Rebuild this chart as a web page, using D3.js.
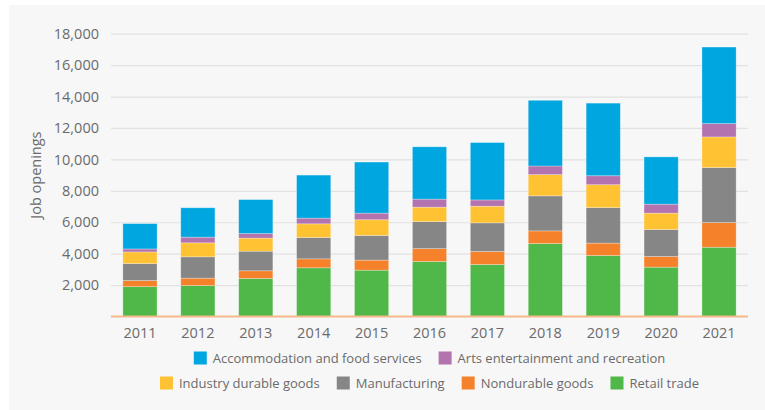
<!DOCTYPE html>
<html>
<head>
<meta charset="utf-8">
<script src="https://cdn.jsdelivr.net/npm/d3@7"></script>
<style>
  html, body { margin: 0; padding: 0; background: #ffffff; }
  svg { display: block; }
  text { font-family: "Open Sans", "Noto Sans", sans-serif; fill: #6b6b6b; }
</style>
</head>
<body>
<svg id="chart" width="765" height="410"></svg>
<script>
// Job openings by industry, per year
const years = ["2011","2012","2013","2014","2015","2016","2017","2018","2019","2020","2021"];
const seriesNames = [
  "Retail trade",
  "Nondurable goods",
  "Manufacturing",
  "Industry durable goods",
  "Arts entertainment and recreation",
  "Accommodation and food services"
];
const retail       = [1900, 1970, 2420, 3100, 2950, 3500, 3310, 4640, 3880, 3140, 4410];
const nondurable   = [ 390,  470,  490,  570,  640,  820,  830,  810,  790,  680, 1570];
const manufacturing= [1080, 1360, 1250, 1360, 1570, 1720, 1820, 2230, 2260, 1720, 3500];
const durable      = [ 740,  890,  830,  870, 1000,  920, 1060, 1350, 1460, 1040, 1950];
const arts         = [ 190,  360,  290,  360,  420,  510,  400,  550,  570,  570,  850];
const accommodation= [1610, 1870, 2160, 2740, 3250, 3330, 3650, 4180, 4620, 3010, 4870];
const yTicks = [2000, 4000, 6000, 8000, 10000, 12000, 14000, 16000, 18000];

const colors = {
  "Retail trade": "#50b848",
  "Nondurable goods": "#f5822a",
  "Manufacturing": "#868686",
  "Industry durable goods": "#ffc233",
  "Arts entertainment and recreation": "#b373ae",
  "Accommodation and food services": "#00a6e0"
};

const rows = years.map((yr, i) => ({
  year: yr,
  "Retail trade": retail[i],
  "Nondurable goods": nondurable[i],
  "Manufacturing": manufacturing[i],
  "Industry durable goods": durable[i],
  "Arts entertainment and recreation": arts[i],
  "Accommodation and food services": accommodation[i]
}));

const svg = d3.select("#chart");
// panel background
svg.append("rect").attr("x", 9).attr("y", 5).attr("width", 756).attr("height", 405).attr("fill", "#f7f7f7");

const plotLeft = 111, plotRight = 748, plotTop = 33.7, plotBottom = 316.5;

const x = d3.scaleBand().domain(years).range([plotLeft, plotRight]).paddingInner(0.41).paddingOuter(0.205);
const y = d3.scaleLinear().domain([0, 18000]).range([plotBottom, plotTop]);

// gridlines + y tick labels
const yAxis = d3.axisLeft(y).tickValues(yTicks).tickSize(-(plotRight - plotLeft)).tickPadding(12)
  .tickFormat(d3.format(","));
const gy = svg.append("g").attr("transform", `translate(${plotLeft},0)`).call(yAxis);
gy.select(".domain").remove();
gy.selectAll(".tick line").attr("stroke", "#e2e2e2").attr("stroke-width", 1.2);
gy.selectAll(".tick text").attr("font-size", 14.5).attr("fill", "#6b6b6b")
  .style("font-family", "'Open Sans', sans-serif");

// stacked bars
const stacked = d3.stack().keys(seriesNames)(rows);
svg.append("g").selectAll("g").data(stacked).join("g")
  .attr("fill", d => colors[d.key])
  .selectAll("rect").data(d => d).join("rect")
  .attr("x", d => x(d.data.year))
  .attr("width", x.bandwidth())
  .attr("y", d => y(d[1]))
  .attr("height", d => y(d[0]) - y(d[1]))
  .attr("stroke", "rgba(255,255,255,0.35)")
  .attr("stroke-width", 0.8);

// baseline
svg.append("line").attr("x1", plotLeft).attr("x2", plotRight).attr("y1", y(0)).attr("y2", y(0))
  .attr("stroke", "#f6b98a").attr("stroke-width", 2);

// x labels
const xAxis = d3.axisBottom(x).tickSize(0).tickPadding(11);
const gx = svg.append("g").attr("transform", `translate(0,${plotBottom})`).call(xAxis);
gx.select(".domain").remove();
gx.selectAll(".tick text").attr("font-size", 14.5).attr("fill", "#6b6b6b")
  .style("font-family", "'Open Sans', sans-serif");

// y title
svg.append("text")
  .attr("transform", `translate(41,${(plotTop + plotBottom) / 2}) rotate(-90)`)
  .attr("text-anchor", "middle")
  .attr("font-size", 14.5)
  .text("Job openings");

// legend in two centred rows
const legendRows = [
  ["Accommodation and food services", "Arts entertainment and recreation"],
  ["Industry durable goods", "Manufacturing", "Nondurable goods", "Retail trade"]
];
const legendY = [358, 383];
const sw = 13, gapText = 6, gapItem = 17;
const cx = (plotLeft + plotRight) / 2;
legendRows.forEach((items, r) => {
  const g = svg.append("g");
  let pos = 0;
  items.forEach(name => {
    const item = g.append("g").attr("transform", `translate(${pos},0)`);
    item.append("rect").attr("x", 0).attr("y", legendY[r] - sw / 2).attr("width", sw).attr("height", sw)
      .attr("fill", colors[name]);
    const t = item.append("text").attr("x", sw + gapText).attr("y", legendY[r])
      .attr("dy", "0.35em").attr("font-size", 13).text(name);
    pos += sw + gapText + t.node().getComputedTextLength() + gapItem;
  });
  const total = pos - gapItem;
  g.attr("transform", `translate(${cx - total / 2},0)`);
});
</script>
</body>
</html>
